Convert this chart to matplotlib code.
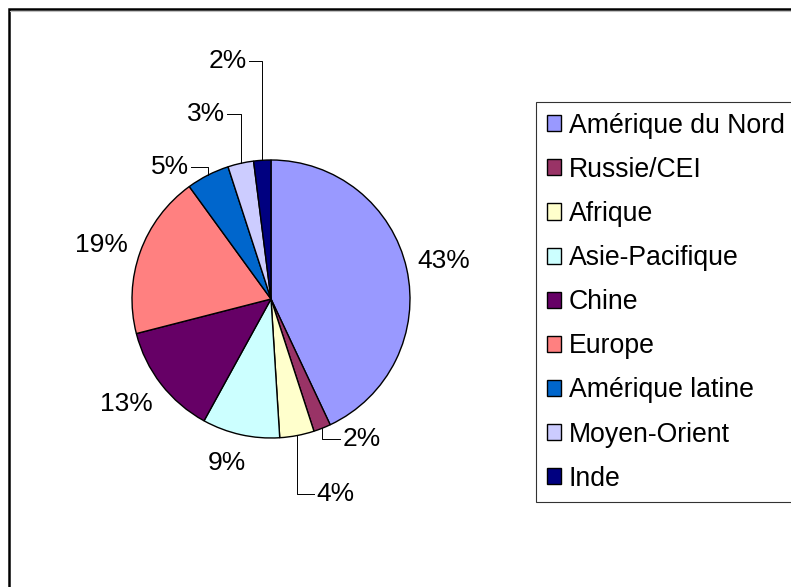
import matplotlib
matplotlib.use('Agg')
import numpy as np
import matplotlib.pyplot as plt
from matplotlib.patches import Rectangle
from matplotlib.lines import Line2D

# Data
regions = ['Amérique du Nord', 'Russie/CEI', 'Afrique', 'Asie-Pacifique', 'Chine',
           'Europe', 'Amérique latine', 'Moyen-Orient', 'Inde']
shares = [43, 2, 4, 9, 13, 19, 5, 3, 2]
colors = ['#9999FF', '#993366', '#FFFFCC', '#CCFFFF', '#660066',
          '#FF8080', '#0066CC', '#CCCCFF', '#000080']

# Label placement (in pie radius units) and which labels get a leader line
label_pos = [(1.24, 0.27), (0.65, -1.01), (0.46, -1.40), (-0.32, -1.18), (-1.04, -0.755),
             (-1.22, 0.39), (-0.73, 0.95), (-0.47, 1.33), (-0.31, 1.71)]
leader = [False, True, True, False, False, False, True, True, True]

plt.rcParams['font.family'] = ['Liberation Sans', 'DejaVu Sans']

W, H = 791, 587
fig = plt.figure(figsize=(W / 100, H / 100), dpi=100)

# pie centre and radius in pixels
cx, cy, R = 271, 299, 139
lim = 1.9
ax = fig.add_axes([(cx - R * lim) / W, (H - cy - R * lim) / H, 2 * R * lim / W, 2 * R * lim / H])
wedges, _ = ax.pie(shares, colors=colors, startangle=90, counterclock=False,
                   wedgeprops=dict(edgecolor='black', linewidth=1.0))
ax.set_xlim(-lim, lim)
ax.set_ylim(-lim, lim)

# Percent labels
texts = []
for val, (x, y) in zip(shares, label_pos):
    t = ax.text(x, y, f'{val}%', ha='center', va='center', fontsize=19, clip_on=False)
    texts.append(t)

fig.canvas.draw()
renderer = fig.canvas.get_renderer()
inv = ax.transData.inverted()

# Leader lines for the small slices
for w, t, has_line in zip(wedges, texts, leader):
    if not has_line:
        continue
    mid = np.deg2rad((w.theta1 + w.theta2) / 2)
    ex, ey = np.cos(mid), np.sin(mid)
    bb = t.get_window_extent(renderer).transformed(inv)
    ty = (bb.y0 + bb.y1) / 2
    gap = 0.015
    if (bb.x0 + bb.x1) / 2 > ex:
        sx = bb.x0 - gap
    else:
        sx = bb.x1 + gap
    ax.plot([ex, ex, sx], [ey, ty, ty], color='black', linewidth=0.7, clip_on=False)

# Legend
leg = fig.legend(wedges, regions, loc='upper left', bbox_to_anchor=(536 / W, 1 - 102 / H),
                 bbox_transform=fig.transFigure, frameon=True, fancybox=False,
                 edgecolor='black', fontsize=19.2, handlelength=0.55, handleheight=0.55,
                 handletextpad=0.28, labelspacing=0.68, borderpad=0.4, borderaxespad=0)
leg.get_frame().set_linewidth(0.8)

# Chart area border (only top and left edges are visible)
fig.add_artist(Rectangle((9 / W, -0.1), 1.2, 1 - 8.5 / H + 0.1, transform=fig.transFigure,
                         fill=False, edgecolor='black', linewidth=1.8, clip_on=False))
fig.add_artist(Line2D([10 / W, 1], [1 - 10.5 / H, 1 - 10.5 / H], transform=fig.transFigure,
                      color='#c0c0c0', linewidth=0.8))

fig.savefig('out.png', dpi=100)
